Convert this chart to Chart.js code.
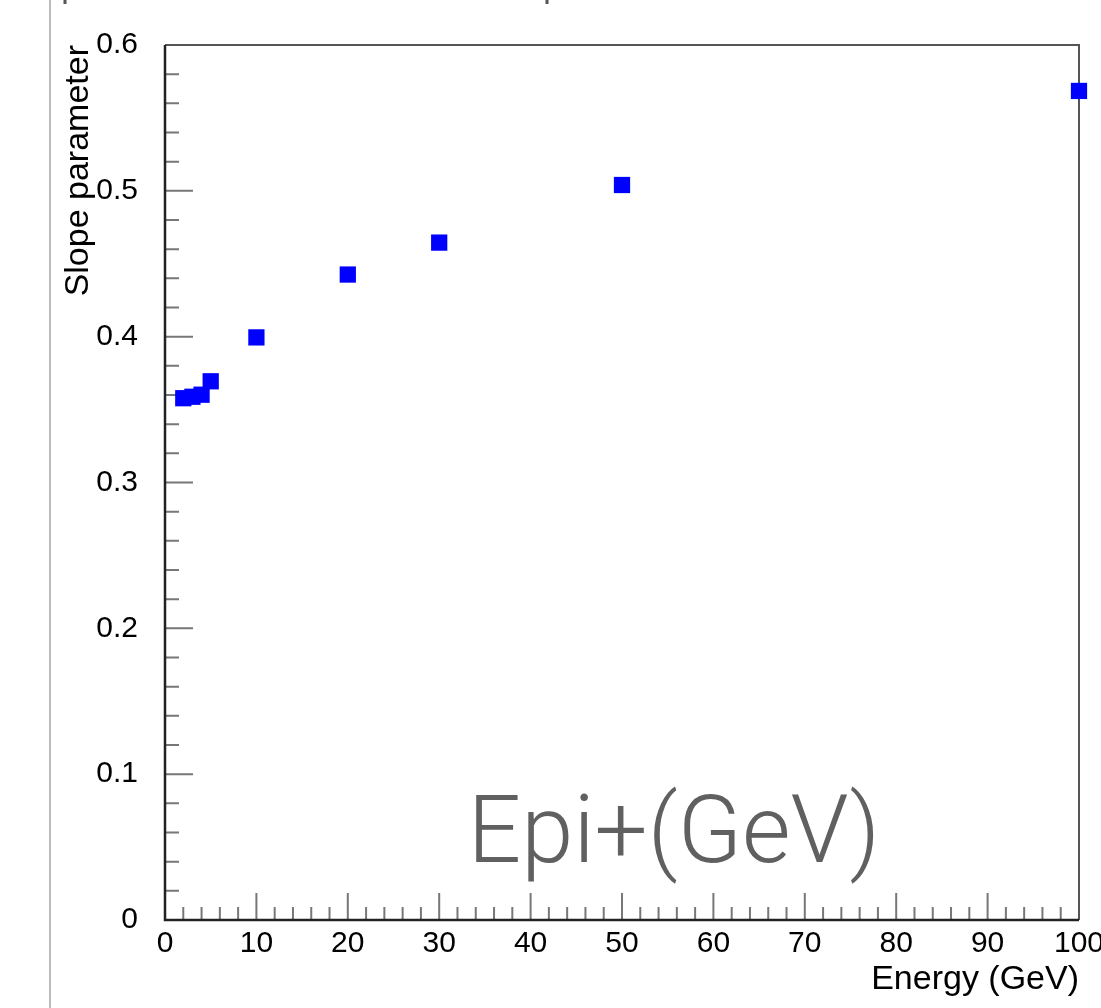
<!DOCTYPE html>
<html>
<head>
<meta charset="utf-8">
<script src="https://cdn.jsdelivr.net/npm/chart.js@4.4.0/dist/chart.umd.min.js"></script>
<style>
  html, body { margin: 0; padding: 0; background: #fff; }
  #wrap { width: 1101px; height: 1008px; overflow: hidden; position: relative; }
  canvas { display: block; }
</style>
</head>
<body>
<div id="wrap"><canvas id="chart" width="1130" height="1008"></canvas></div>
<script>
const energy = [2, 3, 4, 5, 10, 20, 30, 50, 100];
const slope = [0.3578, 0.3588, 0.3602, 0.3694, 0.3995, 0.4426, 0.4645, 0.504, 0.5685];
const xTitle = 'Energy (GeV)';
const yTitle = 'Slope parameter';
const note = 'Epi+(GeV)';

const points = energy.map((e, i) => ({x: e, y: slope[i]}));

// ROOT style frame, inside ticks, screenshot edges and the big label
const rootFrame = {
  id: 'rootFrame',
  beforeDatasetsDraw(chart) {
    const ctx = chart.ctx;
    const a = chart.chartArea;
    const xs = chart.scales.x, ys = chart.scales.y;
    ctx.save();
    // ticks
    ctx.strokeStyle = '#777';
    ctx.lineWidth = 2;
    ctx.beginPath();
    for (let v = 0; v <= 100; v += 2) {
      const px = xs.getPixelForValue(v);
      const len = v % 10 === 0 ? 27 : 13;
      ctx.moveTo(px, a.bottom);
      ctx.lineTo(px, a.bottom - len);
    }
    for (let i = 0; i <= 30; i++) {
      const py = ys.getPixelForValue(i * 0.02);
      const len = i % 5 === 0 ? 28 : 14;
      ctx.moveTo(a.left, py);
      ctx.lineTo(a.left + len, py);
    }
    ctx.stroke();
    // frame
    ctx.strokeStyle = '#555';
    ctx.lineWidth = 2;
    ctx.beginPath();
    ctx.moveTo(a.left, a.top);
    ctx.lineTo(a.right, a.top);
    ctx.lineTo(a.right, a.bottom);
    ctx.stroke();
    ctx.strokeStyle = '#222';
    ctx.lineWidth = 2.5;
    ctx.beginPath();
    ctx.moveTo(a.left, a.top);
    ctx.lineTo(a.left, a.bottom);
    ctx.lineTo(a.right, a.bottom);
    ctx.stroke();
    // screenshot edge bits
    ctx.strokeStyle = '#bbb';
    ctx.lineWidth = 2;
    ctx.beginPath();
    ctx.moveTo(50, 0);
    ctx.lineTo(50, 1008);
    ctx.stroke();
    ctx.strokeStyle = '#555';
    ctx.lineWidth = 3;
    ctx.beginPath();
    ctx.moveTo(65, 0); ctx.lineTo(65, 4);
    ctx.moveTo(547, 0); ctx.lineTo(547, 4);
    ctx.stroke();
    // big label
    ctx.fillStyle = '#606060';
    ctx.font = '300 94px Roboto, "Liberation Sans", sans-serif';
    ctx.textAlign = 'center';
    ctx.textBaseline = 'alphabetic';
    ctx.fillText(note, 674, 862);
    ctx.restore();
  }
};

new Chart(document.getElementById('chart'), {
  type: 'scatter',
  data: {
    datasets: [{
      data: points,
      pointStyle: 'rect',
      pointRadius: 11.5,
      pointHoverRadius: 11.5,
      backgroundColor: '#0000ff',
      borderWidth: 0,
      clip: false
    }]
  },
  options: {
    responsive: false,
    animation: false,
    devicePixelRatio: 1,
    layout: { padding: { left: 58, top: 43, right: 51, bottom: 0 } },
    plugins: { legend: { display: false }, tooltip: { enabled: false } },
    scales: {
      x: {
        type: 'linear',
        min: 0, max: 100,
        grid: { display: false, drawTicks: false },
        border: { display: false },
        ticks: {
          stepSize: 10,
          padding: 6,
          color: '#000',
          maxRotation: 0,
          font: { family: '"Liberation Sans", Arial, sans-serif', size: 30 }
        },
        title: {
          display: true,
          text: xTitle,
          align: 'end',
          color: '#000',
          padding: { top: 0, bottom: 8 },
          font: { family: '"Liberation Sans", Arial, sans-serif', size: 34 }
        },
        afterFit(scale) { scale.height = 88; }
      },
      y: {
        min: 0, max: 0.6,
        grid: { display: false, drawTicks: false },
        border: { display: false },
        ticks: {
          stepSize: 0.1,
          padding: 27,
          color: '#000',
          font: { family: '"Liberation Sans", Arial, sans-serif', size: 30 }
        },
        title: {
          display: true,
          text: yTitle,
          align: 'end',
          color: '#000',
          padding: { top: 0, bottom: 0 },
          font: { family: '"Liberation Sans", Arial, sans-serif', size: 34 }
        },
        afterFit(scale) { scale.width = 107; }
      }
    }
  },
  plugins: [rootFrame]
});
</script>
</body>
</html>
